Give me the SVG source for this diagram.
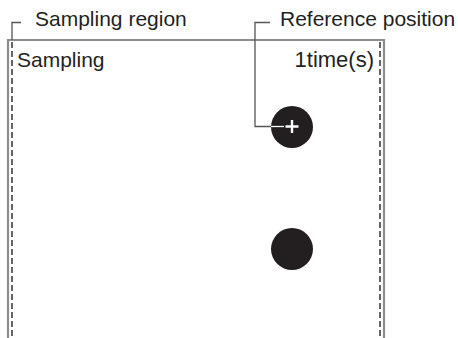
<svg xmlns="http://www.w3.org/2000/svg" width="458" height="338" viewBox="0 0 458 338">
<style>
.lbl{font-family:"Liberation Sans",Arial,sans-serif;font-size:21px;fill:#231f20}
.lead{fill:none;stroke:#555;stroke-width:1.3}
.frame{fill:none;stroke:#8c8c8c;stroke-width:2.2}
.dash{fill:none;stroke:#555;stroke-width:1.8;stroke-dasharray:6,3}
.dot{fill:#231f20}
</style>
<rect width="458" height="338" fill="#fff"/>
<g id="sampling-region">
<path class="frame" d="M8,340 V40 H384 V340"/>
<path class="dash" d="M12,42 V340 M380,42 V340"/>
<text class="lbl" x="17" y="67">Sampling</text>
<text class="lbl" x="374" y="67" text-anchor="end" style="font-size:22px">1time(s)</text>
</g>
<g id="reference-point">
<circle class="dot" cx="292" cy="127" r="21"/>
<path d="M285.5,126.5 H298.5 M292,120 V133" stroke="#fff" stroke-width="2.4"/>
</g>
<g id="second-point">
<circle class="dot" cx="292" cy="249" r="21"/>
</g>
<g id="connectors">
<path class="lead" d="M21,22.5 H12 V40"/>
<path class="lead" d="M270,22.5 H255 V126.5 H271"/>
<path d="M271,126.5 H284" stroke="#fff" stroke-width="1.3"/>
</g>
<g id="labels">
<text class="lbl" x="35" y="26">Sampling region</text>
<text class="lbl" x="280" y="26">Reference position</text>
</g>
</svg>
